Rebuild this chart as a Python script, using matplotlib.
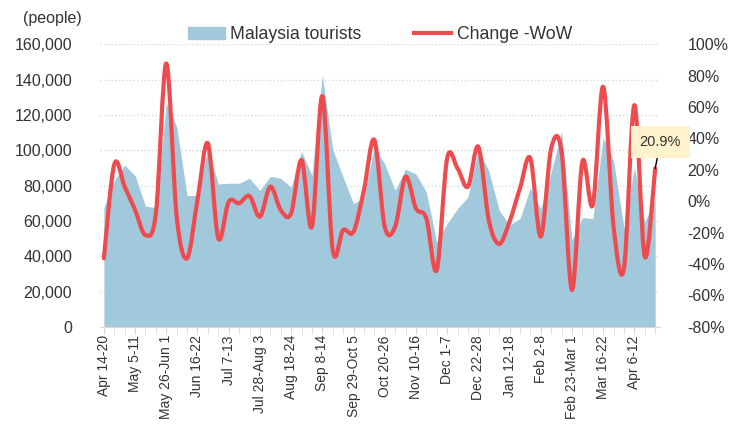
import matplotlib.pyplot as plt
from matplotlib.path import Path
from matplotlib.patches import PathPatch, Patch
from matplotlib.lines import Line2D
from matplotlib.ticker import FuncFormatter
import numpy as np

plt.rcParams['font.family'] = ['Liberation Sans', 'DejaVu Sans']

# weekly tourist arrivals (people), Apr 14-20 .. Apr 20-26
tourists = [67500, 82800, 91600, 85600, 68400, 67500, 126700, 113300, 74400, 74400,
            101000, 80900, 81300, 81300, 84100, 77200, 85200, 84100, 79100, 99300,
            85600, 142600, 100500, 84700, 69700, 73500, 102000, 92100, 77200, 89300,
            86500, 76300, 48000, 58500, 66900, 73500, 100500, 88400, 66000, 57600,
            61300, 78700, 67000, 87500, 110800, 49200, 61900, 61300, 107100, 94000,
            55700, 90300, 59400, 72500]

# week-on-week change (%)
change = [-36.3, 23.5, 9.3, -5.6, -21.5, -7.7, 87.7, -9.8, -36.3, 0.8,
          36.8, -23.6, -0.3, -1.3, 3.3, -9.8, 9.3, -5.6, -7.7, 26.2,
          -16.2, 66.9, -31.0, -18.3, -19.4, 7.1, 39.0, -16.2, -16.2, 15.6,
          -4.5, -10.9, -43.7, 27.3, 20.9, 9.3, 34.7, -11.9, -27.2, -13.0,
          8.2, 27.3, -22.5, 33.6, 31.5, -56.5, 25.2, -2.4, 72.9, -16.2,
          -42.7, 61.2, -35.3, 20.9]

tick_labels = ['Apr 14-20', 'May 5-11', 'May 26-Jun 1', 'Jun 16-22', 'Jul 7-13',
               'Jul 28-Aug 3', 'Aug 18-24', 'Sep 8-14', 'Sep 29-Oct 5', 'Oct 20-26',
               'Nov 10-16', 'Dec 1-7', 'Dec 22-28', 'Jan 12-18', 'Feb 2-8',
               'Feb 23-Mar 1', 'Mar 16-22', 'Apr 6-12']

blue = '#A2C8DC'
red = '#EE4B4F'
text_c = '#333333'
grid_c = '#D9D9D9'

x = np.arange(len(tourists))

fig = plt.figure(figsize=(7.34, 4.29), dpi=100)
ax = fig.add_axes([0.136, 0.238, 0.763, 0.659])
ax2 = ax.twinx()

# area
ax.fill_between(x, 0, tourists, color=blue, linewidth=0)
ax.set_ylim(0, 160000)
ax.set_yticks(range(0, 160001, 20000))
ax.yaxis.set_major_formatter(FuncFormatter(lambda v, p: f'{int(v):,}'))
ax.grid(axis='y', color=grid_c, linestyle=':', linewidth=1)
ax.set_axisbelow(True)

ax.set_xlim(-0.39, 53.45)
ax.set_xticks(x[::3])
ax.set_xticklabels(tick_labels, rotation=90, fontsize=10, color=text_c)
ax.set_xticks(x, minor=True)
ax.tick_params(axis='x', which='both', length=5, color=grid_c, pad=1)
ax.tick_params(axis='y', length=0, pad=20, labelsize=11.5, labelcolor=text_c)

for s in ['top', 'left', 'right']:
    ax.spines[s].set_visible(False)
    ax2.spines[s].set_visible(False)
ax.spines['bottom'].set_color(grid_c)
ax2.spines['bottom'].set_visible(False)

# smoothed line (Catmull-Rom style bezier through the points)
pts = list(zip(x.astype(float), change))
verts = [pts[0]]
codes = [Path.MOVETO]
n = len(pts)
for i in range(n - 1):
    p0 = pts[max(i - 1, 0)]
    p1 = pts[i]
    p2 = pts[i + 1]
    p3 = pts[min(i + 2, n - 1)]
    c1 = (p1[0] + (p2[0] - p0[0]) / 6, p1[1] + (p2[1] - p0[1]) / 6)
    c2 = (p2[0] - (p3[0] - p1[0]) / 6, p2[1] - (p3[1] - p1[1]) / 6)
    verts += [c1, c2, p2]
    codes += [Path.CURVE4] * 3
ax2.add_patch(PathPatch(Path(verts, codes), fill=False, edgecolor=red,
                        linewidth=3, capstyle='round', joinstyle='round'))

ax2.set_ylim(-80, 100)
ax2.set_yticks(range(-80, 101, 20))
ax2.yaxis.set_major_formatter(FuncFormatter(lambda v, p: f'{int(v)}%'))
ax2.tick_params(axis='y', length=0, pad=20, labelsize=11.5, labelcolor=text_c)

# last value callout
ax2.annotate(f'{change[-1]}%', xy=(x[-1], change[-1]), xytext=(53.5, 37.7),
             ha='center', va='center', fontsize=10.5, color=text_c,
             bbox=dict(boxstyle='square,pad=0.6', fc='#FFF2CC', ec='none'),
             arrowprops=dict(arrowstyle='-', color='black', lw=1, shrinkA=0, shrinkB=0),
             annotation_clip=False)

handles = [Patch(color=blue, label='Malaysia tourists'),
           Line2D([], [], color=red, lw=3, label='Change -WoW')]
leg = ax.legend(handles=handles, loc='upper center', bbox_to_anchor=(0.5, 1.12),
                ncol=2, frameon=False, fontsize=12.7, handlelength=2.1,
                columnspacing=3.0, handletextpad=0.3)
for t in leg.get_texts():
    t.set_color(text_c)

fig.text(0.071, 0.958, '(people)', ha='center', va='center', fontsize=11.5, color=text_c)

fig.savefig('out.png', dpi=100)
